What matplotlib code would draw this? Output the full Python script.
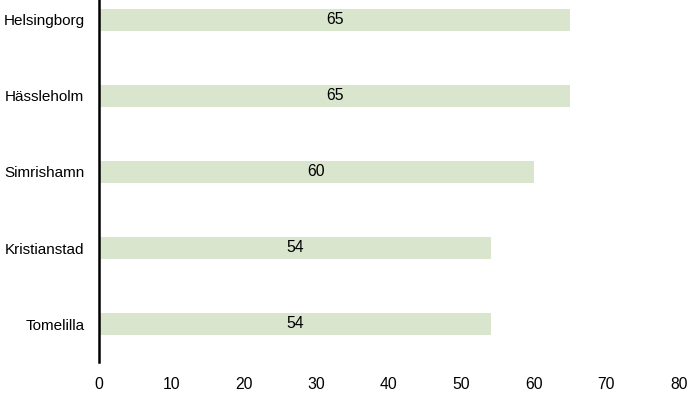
import matplotlib
matplotlib.use("Agg")
import matplotlib.pyplot as plt

categories = ["Helsingborg", "Hässleholm", "Simrishamn", "Kristianstad", "Tomelilla"]
values = [65, 65, 60, 54, 54]
xticks = [0, 10, 20, 30, 40, 50, 60, 70, 80]

plt.rcParams['font.family'] = ['Liberation Sans', 'DejaVu Sans']

fig = plt.figure(figsize=(6.89, 3.93), dpi=100)
ax = fig.add_axes([99/689, 31/393, (679-99)/689, (362+18)/393])

ypos = list(range(len(categories)))
bars = ax.barh(ypos, values, height=0.3, color="#d9e5cd")
for y, v in zip(ypos, values):
    ax.text(v/2, y, str(v), ha="center", va="center", fontsize=11.3, color="black")

ax.set_ylim(len(categories)-0.5, -0.5)
ax.set_xlim(0, 80)
ax.set_yticks(ypos)
ax.set_yticklabels(categories, fontsize=11)
ax.set_xticks(xticks)
ax.set_xticklabels([str(t) for t in xticks], fontsize=11.3)
ax.tick_params(axis="both", length=0)
ax.tick_params(axis="x", pad=11)
ax.tick_params(axis="y", pad=10.5)
for s in ["top", "right", "bottom"]:
    ax.spines[s].set_visible(False)
ax.spines["left"].set_linewidth(1.8)
ax.spines["left"].set_color("black")

fig.savefig("out.png", dpi=100)
